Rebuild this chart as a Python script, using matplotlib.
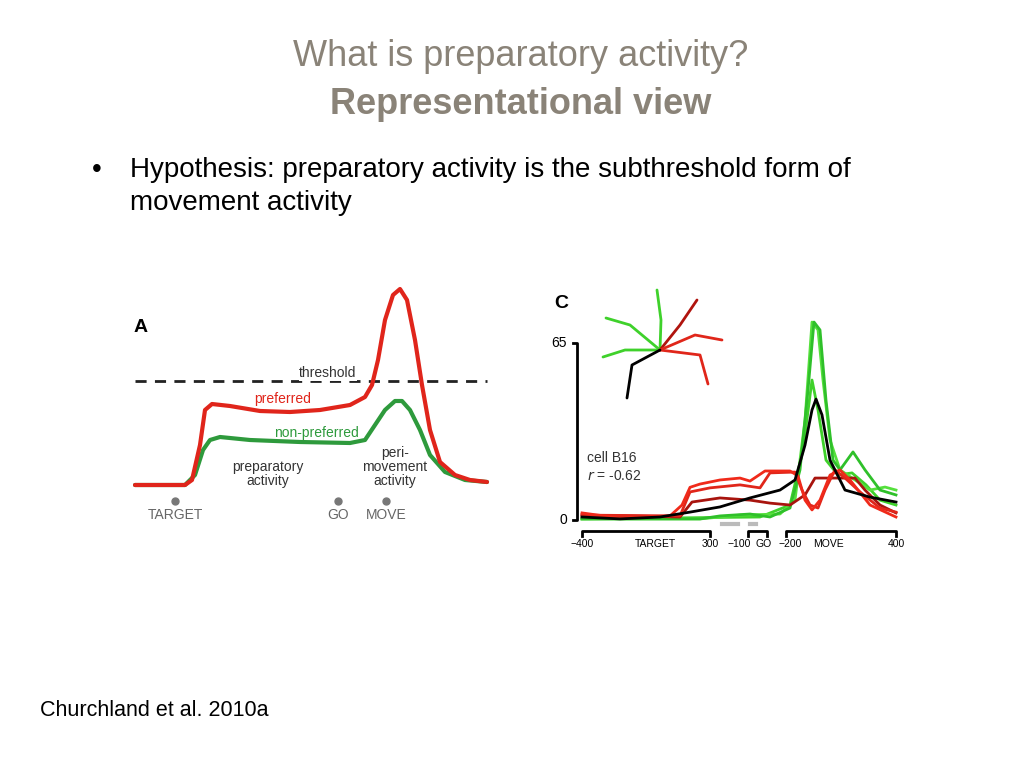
import matplotlib
matplotlib.use("Agg")
import matplotlib.pyplot as plt

plt.rcParams["font.family"] = ["Liberation Sans", "DejaVu Sans"]
plt.rcParams["lines.solid_joinstyle"] = "round"

# Panel A (schematic), coordinates in slide pixels
a_red_x = [135, 185, 192, 200, 205, 212, 230, 260, 290, 320, 350, 365, 372, 378, 385, 393, 400, 407, 415, 422, 430, 440, 455, 470, 487]
a_red_y = [485, 485, 480, 445, 410, 404, 406, 411, 412, 410, 405, 397, 385, 360, 320, 295, 289, 300, 340, 385, 430, 462, 475, 480, 482]
a_grn_x = [135, 185, 195, 203, 210, 220, 250, 300, 350, 365, 375, 385, 395, 402, 410, 420, 430, 445, 465, 487]
a_grn_y = [485, 485, 475, 450, 440, 437, 440, 442, 443, 440, 425, 410, 401, 401, 410, 430, 455, 472, 480, 482]
a_events = ["TARGET", "GO", "MOVE"]
a_event_x = [175, 338, 386]

# Panel C (cell B16), x in plot position, y in spikes/s
c_black = ([582, 620, 660, 690, 720, 750, 780, 795, 805, 812, 816, 822, 830, 845, 870, 896],
           [1.1, 0.4, 1.1, 2.9, 4.8, 8.1, 11, 14.7, 27.5, 40.4, 44.4, 38.6, 22, 11, 8.4, 6.6])
c_red1 = ([582, 620, 670, 682, 690, 700, 720, 740, 750, 765, 790, 798, 805, 812, 820, 830, 840, 850, 870, 896],
          [2.6, 0.7, 1.5, 5.5, 12, 13.2, 14.7, 15.4, 14.3, 18, 18, 16.2, 7.3, 3.7, 7.3, 16.5, 18.4, 14.7, 5.5, 1.1])
c_red2 = ([582, 680, 690, 710, 740, 760, 770, 795, 802, 810, 818, 825, 835, 845, 860, 880, 896],
          [1.8, 1.5, 10.3, 11.8, 12.9, 11.8, 17.3, 17.6, 11, 5.5, 4.4, 11, 18.4, 15.4, 10.3, 4.4, 2.9])
c_red3 = ([582, 680, 692, 720, 750, 770, 790, 805, 815, 825, 840, 855, 865, 880, 896],
          [1.8, 1.1, 6.6, 8.1, 7.3, 6.2, 5.5, 9.2, 15.4, 15.4, 15.4, 15.4, 11, 5.5, 2.6])
c_grn1 = ([582, 700, 720, 750, 770, 790, 800, 808, 814, 820, 826, 833, 840, 853, 865, 880, 896],
          [0.4, 0.4, 1.5, 2.2, 1.1, 4.4, 18.4, 47.7, 72.7, 69.8, 44, 22, 18.4, 25, 18.4, 11, 9.2])
c_grn2 = ([582, 700, 740, 780, 795, 805, 812, 818, 823, 830, 840, 855, 870, 885, 896],
          [0.4, 0.4, 1.8, 2.2, 7.3, 36.7, 72.7, 69.8, 51.4, 29.4, 18.4, 14.7, 11, 12.1, 11])
c_grn3 = ([582, 760, 790, 803, 812, 818, 826, 838, 852, 866, 880, 896],
          [0.4, 1.1, 5.5, 25.7, 51.4, 40.4, 22, 16.5, 17.3, 12.9, 7.3, 5.5])

C0, CS = 520, 177 / 65  # pixel of 0, pixels per spike/s


def cy(v):
    return [C0 - x * CS for x in v]


fig = plt.figure(figsize=(10.24, 7.68), dpi=100)
ax = fig.add_axes([0, 0, 1, 1])
ax.set_xlim(0, 1024)
ax.set_ylim(768, 0)
ax.axis("off")

gray_t = "#8a8378"
ax.text(521, 56, "What is preparatory activity?", ha="center", va="center", fontsize=26, color=gray_t)
ax.text(521, 104, "Representational view", ha="center", va="center", fontsize=26,
        color=gray_t, weight="bold")
ax.text(92, 170, "•", ha="left", va="center", fontsize=20)
ax.text(130, 170, "Hypothesis: preparatory activity is the subthreshold form of", ha="left",
        va="center", fontsize=20)
ax.text(130, 203, "movement activity", ha="left", va="center", fontsize=20)
ax.text(40, 710, "Churchland et al. 2010a", ha="left", va="center", fontsize=15.5)

# ---- panel A
ax.text(134, 328, "A", fontsize=14, weight="bold", va="center")
ax.plot([135, 487], [381, 381], ls=(0, (4, 3)), color="#222222", lw=2)
ax.text(328, 373, "threshold", ha="center", va="center", fontsize=10, color="#333333",
        bbox=dict(fc="white", ec="none", pad=0.5))
ax.plot(a_grn_x, a_grn_y, color="#2e9a3c", lw=3, solid_capstyle="round")
ax.plot(a_red_x, a_red_y, color="#e0251b", lw=3, solid_capstyle="round")
ax.text(283, 399, "preferred", ha="center", va="center", fontsize=10, color="#e0251b")
ax.text(316, 433, "non-preferred", ha="center", va="center", fontsize=10, color="#2e9a3c")
ax.text(268, 474, "preparatory\nactivity", ha="center", va="center", fontsize=10,
        color="#333333", linespacing=1.0)
ax.text(395, 467, "peri-\nmovement\nactivity", ha="center", va="center", fontsize=10,
        color="#333333", linespacing=1.0)
for name, x in zip(a_events, a_event_x):
    ax.plot(x, 501, "o", color="#777777", ms=5)
    ax.text(x, 515, name, ha="center", va="center", fontsize=10, color="#666666")

# ---- panel C
ax.text(554, 304, "C", fontsize=14, weight="bold", va="center")
ax.plot([573, 577, 577, 573], [cy([65])[0], cy([65])[0], C0, C0], color="black", lw=2)
ax.text(567, 343, "65", ha="right", va="center", fontsize=10)
ax.text(567, 520, "0", ha="right", va="center", fontsize=10)
for xs, ys, col in [(c_grn3[0], c_grn3[1], "#3fd12b"), (c_grn2[0], c_grn2[1], "#55e03c"),
                    (c_grn1[0], c_grn1[1], "#2fc02a"), (c_red3[0], c_red3[1], "#a8140e"),
                    (c_red2[0], c_red2[1], "#e0261a"), (c_red1[0], c_red1[1], "#f02a1a"),
                    (c_black[0], c_black[1], "black")]:
    ax.plot(xs, cy(ys), color=col, lw=2)
ax.text(587, 458, "cell B16", fontsize=10, color="#333333", va="center")
ax.text(587, 476, "$r$ = -0.62", fontsize=10, color="#333333", va="center")
# time axis brackets
for x0, x1 in [(582, 710), (748, 767), (786, 896)]:
    ax.plot([x0, x0, x1, x1], [536, 531, 531, 536], color="black", lw=2)
for x0, x1 in [(722, 738), (750, 756)]:
    ax.plot([x0, x1], [524, 524], color="#bbbbbb", lw=3)
for x, s in [(582, "−400"), (655, "TARGET"), (710, "300"), (739, "−100"), (764, "GO"),
             (790, "−200"), (828, "MOVE"), (896, "400")]:
    ax.text(x, 544, s, ha="center", va="center", fontsize=7.5)
# reach directions inset
cx, cyy = 660, 350
arms = [([cx, 661, 657], [cyy, 320, 290], "#3fd12b"), ([cx, 680, 697], [cyy, 325, 300], "#b0140e"),
        ([cx, 630, 606], [cyy, 325, 318], "#3fd12b"), ([cx, 625, 603], [cyy, 350, 357], "#3fd12b"),
        ([cx, 695, 722], [cyy, 335, 340], "#e0261a"), ([cx, 700, 708], [cyy, 355, 384], "#e0261a"),
        ([cx, 632, 627], [cyy, 365, 398], "black")]
for xs, ys, col in arms:
    ax.plot(xs, ys, color=col, lw=2, solid_capstyle="round")

fig.savefig("out.png", dpi=100)
